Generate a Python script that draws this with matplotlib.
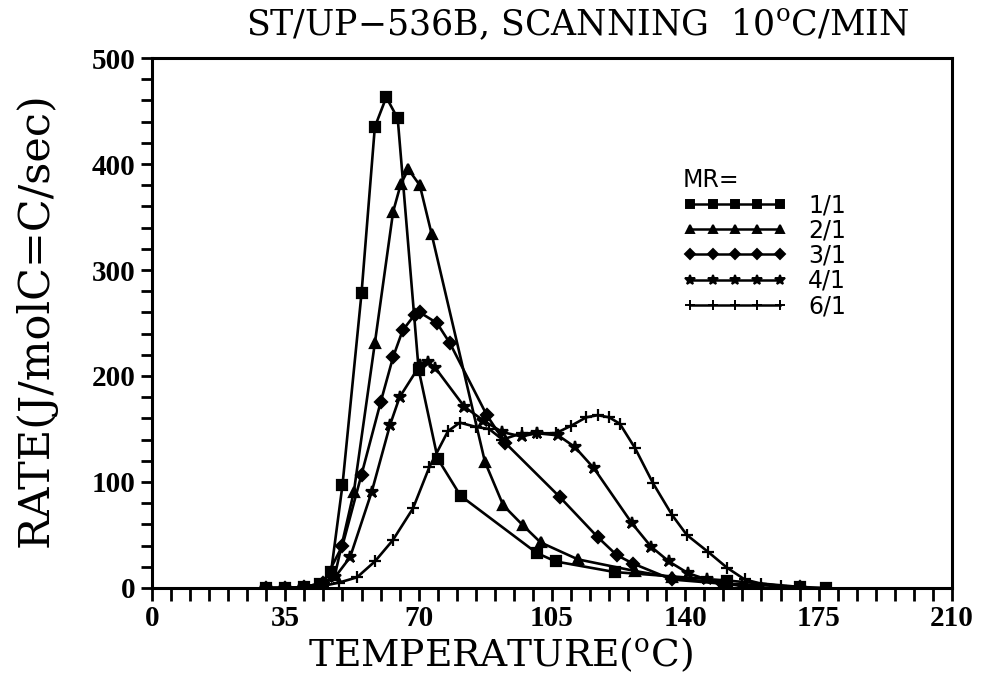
import matplotlib
matplotlib.use("Agg")
import matplotlib.pyplot as plt
from matplotlib.lines import Line2D
from matplotlib.ticker import MultipleLocator

plt.rcParams["mathtext.fontset"] = "dejavuserif"

# Reaction rate vs temperature for each molar ratio (MR)
t_11 = [30, 35, 40, 44, 47, 50, 55, 58.5, 61.5, 64.5, 70, 75, 81, 101, 106, 121.5, 151, 170, 177]
r_11 = [0, 0, 1, 4, 15, 97, 278, 435, 463, 443, 206, 122, 87, 33, 25, 15, 7, 1, 0]

t_21 = [30, 35, 40, 44, 48, 53, 58.5, 63.3, 65.3, 67.3, 70.3, 73.4, 87.4, 92.2, 97.4,
        102, 111.8, 126.8, 136.5, 150, 160]
r_21 = [0, 0, 1, 3, 12, 91, 231, 355, 381, 395, 380, 334, 119, 78, 59,
        43, 27, 16, 10, 4, 1]

t_31 = [30, 35, 40, 45, 50, 55, 60, 63.3, 65.8, 69, 70.3, 74.8, 78.2, 87.9, 92.7,
        107, 117, 122, 126.3, 136.5, 150, 170]
r_31 = [0, 0, 1, 5, 40, 107, 175, 218, 243, 258, 260, 250, 231, 163, 137,
        86, 48, 31, 23, 8, 4, 1]

t_41 = [30, 35, 40, 45, 48, 52, 57.7, 62.5, 65, 70.3, 72.5, 74.3, 82, 87, 92, 97, 101,
        106.6, 111, 116, 126, 131, 135.7, 140.7, 145.6, 150, 155]
r_41 = [0, 0, 1, 4, 10, 29, 91, 154, 180, 210, 213, 208, 171, 158, 147, 143, 146,
        144, 133, 113, 61, 39, 25, 14, 8, 4, 2]

t_61 = [30, 35, 40, 45, 49, 53.8, 58.5, 63.2, 68.5, 72.8, 77.7, 80.8, 85, 88.5, 92, 97,
        101, 106, 110, 114, 117, 120, 122.8, 126.8, 131.5, 136.5, 140.4, 146, 151,
        155.6, 160, 165]
r_61 = [0, 0, 1, 2, 5, 10, 25, 45, 75, 114, 148, 156, 152, 150, 140, 146,
        146, 146, 153, 161, 163, 161, 155, 132, 99, 69, 50, 34, 19,
        8, 4, 2]

series_labels = ["1/1", "2/1", "3/1", "4/1", "6/1"]
series = [(t_11, r_11), (t_21, r_21), (t_31, r_31), (t_41, r_41), (t_61, r_61)]
markers = ["s", "^", "D", "*", "+"]
msizes = [6.5, 7, 6, 9, 9]

x_ticks = [0, 35, 70, 105, 140, 175, 210]
y_ticks = [0, 100, 200, 300, 400, 500]

fig = plt.figure(figsize=(9.87, 6.81), dpi=100)
ax = fig.add_axes([0.154, 0.1366, 0.8105, 0.7782])

for (t, r), m, ms in zip(series, markers, msizes):
    ax.plot(t, r, color="black", lw=1.9, marker=m, markersize=ms,
            markeredgewidth=1.6, markerfacecolor="black", markeredgecolor="black")

ax.set_xlim(0, 210)
ax.set_ylim(0, 500)
ax.set_xticks(x_ticks)
ax.set_yticks(y_ticks)
ax.xaxis.set_minor_locator(MultipleLocator(5))
ax.yaxis.set_minor_locator(MultipleLocator(20))

for s in ax.spines.values():
    s.set_linewidth(2.2)

ax.tick_params(axis="both", which="both", direction="out", width=2.0,
               top=False, right=False)
ax.tick_params(axis="x", which="both", length=9, pad=3)
ax.tick_params(axis="y", which="both", length=8, pad=4)

tick_font = dict(family="Liberation Serif", weight="bold", size=21)
ax.set_xticklabels([str(v) for v in x_ticks], fontdict=tick_font)
ax.set_yticklabels([str(v) for v in y_ticks], fontdict=tick_font)

fig.text(0.585, 0.965, r"ST/UP$-$536B, SCANNING  10$^{\mathrm{o}}$C/MIN",
         ha="center", va="center", family="DejaVu Serif", fontsize=25)
fig.text(0.507, 0.022, r"TEMPERATURE($^{\mathrm{o}}$C)",
         ha="center", va="baseline", family="DejaVu Serif", fontsize=27)
fig.text(0.036, 0.53, "RATE(J/molC=C/sec)", rotation=90,
         ha="center", va="center", family="DejaVu Serif", fontsize=31)

handles = [Line2D([], [], color="black", lw=1.8, marker=m, markersize=ms * 0.85,
                  markerfacecolor="black", markeredgecolor="black", markeredgewidth=1.4)
           for m, ms in zip(markers, msizes)]
leg = ax.legend(handles, series_labels, title="MR=", loc="upper left",
                bbox_to_anchor=(0.652, 0.81), frameon=False, numpoints=5,
                handlelength=4.4, handletextpad=0.9, labelspacing=0.05,
                borderaxespad=0.0,
                prop=dict(family="DejaVu Sans", size=17),
                title_fontproperties=dict(family="DejaVu Sans", size=17))
leg._legend_box.align = "left"

fig.savefig("out.png", dpi=100)
